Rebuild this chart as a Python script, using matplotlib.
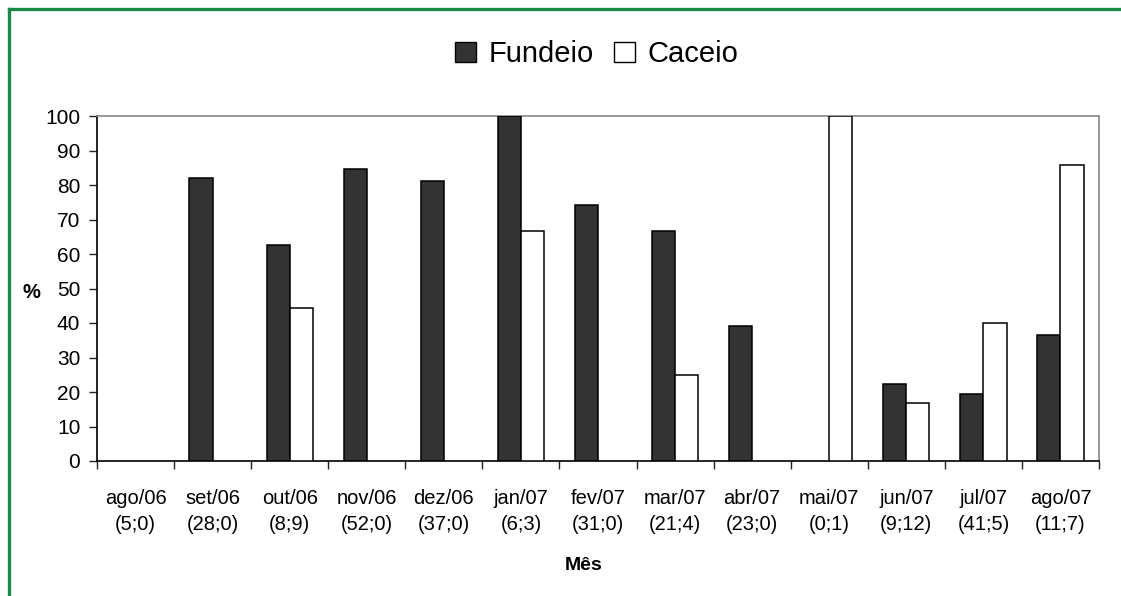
import numpy as np
import matplotlib
matplotlib.use("Agg")
import matplotlib.pyplot as plt
from matplotlib.patches import Rectangle
from matplotlib.lines import Line2D

plt.rcParams['font.family'] = ['Liberation Sans', 'DejaVu Sans']

meses = ["ago/06", "set/06", "out/06", "nov/06", "dez/06", "jan/07", "fev/07",
         "mar/07", "abr/07", "mai/07", "jun/07", "jul/07", "ago/07"]
amostras = ["(5;0)", "(28;0)", "(8;9)", "(52;0)", "(37;0)", "(6;3)", "(31;0)",
            "(21;4)", "(23;0)", "(0;1)", "(9;12)", "(41;5)", "(11;7)"]
fundeio = [0, 82.1, 62.5, 84.6, 81.1, 100, 74.2, 66.7, 39.1, 0, 22.2, 19.5, 36.4]
caceio = [0, 0, 44.4, 0, 0, 66.7, 0, 25.0, 0, 100, 16.7, 40.0, 85.7]

W, H = 1121, 596
fig = plt.figure(figsize=(W / 100, H / 100), dpi=100)
ax = fig.add_axes([97 / W, 1 - 461 / H, (1099 - 97) / W, (461 - 116) / H])

x = np.arange(len(meses)) + 0.5
w = 0.3
# zero values are not drawn (no outline on the baseline)
f = np.array(fundeio, dtype=float)
c = np.array(caceio, dtype=float)
mf = f > 0
mc = c > 0
ax.bar(x[mf] - w / 2, f[mf], w, color="#333333", edgecolor="black", linewidth=1.1, zorder=3)
ax.bar(x[mc] + w / 2, c[mc], w, color="white", edgecolor="black", linewidth=1.1, zorder=3)

ax.set_xlim(0, len(meses))
ax.set_ylim(0, 100)
ax.set_yticks(np.arange(0, 101, 10))
ax.tick_params(axis="y", direction="out", length=6, width=1, labelsize=15, pad=6, color="#222222")

ax.set_xticks(np.arange(0, len(meses) + 1))
ax.set_xticklabels([])
ax.tick_params(axis="x", which="major", direction="out", length=6, width=1, color="#222222")
ax.set_xticks(x, minor=True)
ax.set_xticklabels([m + "\n" + a for m, a in zip(meses, amostras)], minor=True, fontsize=14.5,
                   linespacing=1.5)
ax.tick_params(axis="x", which="minor", length=0, pad=20)

ax.spines["left"].set_color("black")
ax.spines["bottom"].set_color("black")
ax.spines["top"].set_color("#888888")
ax.spines["right"].set_color("#888888")
for s in ax.spines.values():
    s.set_linewidth(1.2)

fig.text(584 / W, 1 - 566 / H, "Mês", fontsize=14, fontweight="bold", ha="center", va="center")
fig.text(31 / W, 1 - 292 / H, "%", fontsize=14.5, fontweight="bold", ha="center", va="center")

handles = [Rectangle((0, 0), 1, 1, facecolor="#333333", edgecolor="black", linewidth=1),
           Rectangle((0, 0), 1, 1, facecolor="white", edgecolor="black", linewidth=1)]
fig.legend(handles, ["Fundeio", "Caceio"], loc="center", bbox_to_anchor=(597 / W, 1 - 54 / H),
           ncol=2, frameon=False, fontsize=21, handlelength=0.7, handleheight=0.7,
           handletextpad=0.45, columnspacing=0.7)

# green frame (left and top only visible)
green = "#1a8a46"
fig.add_artist(Line2D([9 / W, 9 / W], [0, 1 - 9 / H], color=green, linewidth=2.4,
                      transform=fig.transFigure))
fig.add_artist(Line2D([9 / W, 1], [1 - 9 / H, 1 - 9 / H], color=green, linewidth=2.4,
                      transform=fig.transFigure))

fig.savefig("out.png", dpi=100)
